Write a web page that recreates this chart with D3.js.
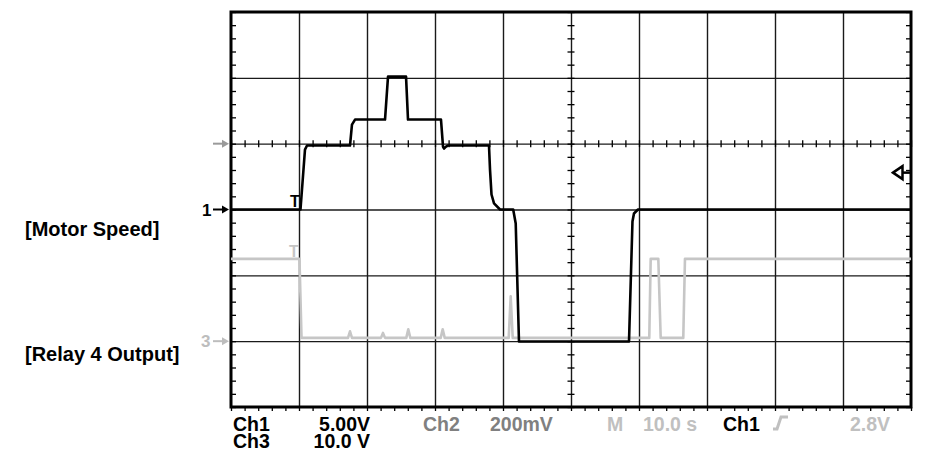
<!DOCTYPE html>
<html><head><meta charset="utf-8">
<script src="https://cdn.jsdelivr.net/npm/d3@7/dist/d3.min.js"></script>
<style>
body{margin:0;background:#fff;}
svg{display:block;font-family:"Liberation Sans",Arial,Helvetica,sans-serif;font-weight:bold;}
</style>
</head><body>
<svg id="c" width="929" height="451"></svg>
<script>
// ---- data ----
const timeDivisions = [0,10,20,30,40,50,60,70,80,90,100];      // seconds (10 s/div)
const ch1Divisions  = [-15,-10,-5,0,5,10,15];                  // volts (5 V/div)
const ch3Divisions  = [-10,0,10,20,30,40,50];                  // volts (10 V/div)

const motorTime  = [0,10.22,10.88,11.18,17.5,17.79,18.24,22.65,23.09,25.74,26.03,30.88,31.18,31.32,31.62,31.91,37.94,38.09,38.31,38.68,39.56,41.5,41.87,42.35,58.53,59.04,59.26,59.85,100];
const motorVolts = [0,0,4.55,4.86,4.86,6.45,6.83,6.83,10.09,10.09,6.83,6.83,4.78,4.63,4.78,4.86,4.86,3.03,1.14,0.46,0,0,-1.06,-10.02,-10.02,-0.91,-0.30,0,0];

const relayTime  = [0,10.07,10.37,17.21,17.5,17.79,22.06,22.35,22.65,25.78,26.07,26.37,30.84,31.13,31.43,40.84,41.13,41.43,61.51,61.72,62.84,63.19,66.51,66.76,100];
const relayVolts = [12.5,12.5,0.5,0.5,1.5,0.5,0.5,1.25,0.5,0.5,1.8,0.5,0.5,1.8,0.5,0.5,6.8,0.5,0.5,12.5,12.5,0.5,0.5,12.5,12.5];

const channelLabels = ["[Motor Speed]","[Relay 4 Output]"];
const readoutChannels = ["Ch1","Ch3"];
const readoutScales = ["5.00V","10.0 V"];
const triggerLevel = 2.8;   // V on Ch1
const ch2Marker = 5;        // Ch1-volts position of the Ch2 ground arrow

// ---- layout ----
const L=231, R=911, T=12, B=407;
const svg = d3.select("#c");
const x = d3.scaleLinear().domain([0,100]).range([L,R]);
const y1 = d3.scaleLinear().domain([-15,15]).range([B,T]);
const y3 = d3.scaleLinear().domain([-10,50]).range([B,T]);

const minorT = d3.range(0,100.001,2);
const minorV = d3.range(-15,15.001,1);

// grid lines
const gx = svg.append("g").attr("transform",`translate(0,${B})`)
  .call(d3.axisBottom(x).tickValues(timeDivisions.slice(1,-1)).tickSize(-(B-T)).tickFormat(""));
gx.select(".domain").remove();
gx.selectAll("line").attr("stroke","#1a1a1a").attr("stroke-width",1.4);
const gy = svg.append("g").attr("transform",`translate(${L},0)`)
  .call(d3.axisLeft(y1).tickValues(ch1Divisions.slice(1,-1)).tickSize(-(R-L)).tickFormat(""));
gy.select(".domain").remove();
gy.selectAll("line").attr("stroke","#1a1a1a").attr("stroke-width",1.4);

// minor ticks on frame
function ticks(axis, tr, size){
  const g = svg.append("g").attr("transform",tr).call(axis.tickSize(size).tickFormat(""));
  g.select(".domain").remove();
  g.selectAll("line").attr("stroke","#000").attr("stroke-width",1.3);
  return g;
}
ticks(d3.axisLeft(y1).tickValues(minorV), `translate(${L},0)`, -5);
ticks(d3.axisRight(y1).tickValues(minorV), `translate(${R},0)`, -5);
ticks(d3.axisBottom(x).tickValues(minorT), `translate(0,${B})`, 4);
// center crosshair ticks
ticks(d3.axisBottom(x).tickValues(minorT), `translate(0,${y1(ch2Marker)-3.5})`, 7);
ticks(d3.axisLeft(y1).tickValues(minorV), `translate(${x(50)+3.5},0)`, 7);

// frame
svg.append("rect").attr("x",L).attr("y",T).attr("width",R-L).attr("height",B-T)
  .attr("fill","none").attr("stroke","#000").attr("stroke-width",3);

// traces
const relayLine = d3.line().x(d=>x(d[0])).y(d=>y3(d[1]));
svg.append("path").datum(relayTime.map((t,i)=>[t,relayVolts[i]]))
  .attr("d",relayLine).attr("fill","none").attr("stroke","#c6c6c6")
  .attr("stroke-width",2.6).attr("stroke-linejoin","round");
const motorLine = d3.line().x(d=>x(d[0])).y(d=>y1(d[1]));
svg.append("path").datum(motorTime.map((t,i)=>[t,motorVolts[i]]))
  .attr("d",motorLine).attr("fill","none").attr("stroke","#000")
  .attr("stroke-width",2.6).attr("stroke-linejoin","round");

// left markers
function arrow(yy, col){
  svg.append("line").attr("x1",213).attr("x2",224).attr("y1",yy).attr("y2",yy)
    .attr("stroke",col).attr("stroke-width",2);
  svg.append("path").attr("d",`M222,${yy-4}L229,${yy}L222,${yy+4}Z`).attr("fill",col);
}
arrow(y1(ch2Marker), "#9a9a9a");
arrow(y1(0), "#000");
arrow(y3(0), "#bdbdbd");
svg.append("text").attr("x",202).attr("y",y1(0)+6).attr("font-size",17).attr("fill","#000").text("1");
svg.append("text").attr("x",201).attr("y",y3(0)+6).attr("font-size",17).attr("fill","#bdbdbd").text("3");

// trigger T markers
svg.append("text").attr("x",290).attr("y",207).attr("font-size",16).attr("fill","#000").text("T");
svg.append("text").attr("x",289).attr("y",257).attr("font-size",16).attr("fill","#c6c6c6").text("T");

// trigger level marker on right
const ty = y1(triggerLevel);
svg.append("line").attr("x1",902).attr("x2",R).attr("y1",ty).attr("y2",ty).attr("stroke","#000").attr("stroke-width",2.5);
svg.append("path").attr("d",`M893,${ty}L902.5,${ty-6.5}L902.5,${ty+6.5}Z`).attr("fill","#fff")
  .attr("stroke","#000").attr("stroke-width",2.5).attr("stroke-linejoin","miter");

// channel labels
svg.append("text").attr("x",25).attr("y",236).attr("font-size",20).attr("fill","#000").text(channelLabels[0]);
svg.append("text").attr("x",25).attr("y",361).attr("font-size",20).attr("fill","#000").text(channelLabels[1]);

// bottom readout
const fs=19.5;
function txt(xx,yy,s,col,anchor){
  svg.append("text").attr("x",xx).attr("y",yy).attr("font-size",fs).attr("fill",col)
    .attr("text-anchor",anchor||"start").text(s);
}
function block(xx, lines, anchor){
  lines.forEach((s,i)=>svg.append("text").attr("font-size",fs).attr("fill","#000")
    .attr("text-anchor",anchor).attr("x",xx).attr("y",431+17*i).text(s));
}
block(233, readoutChannels, "start");
block(370, readoutScales, "end");
txt(423,431,"Ch2","#808080");
txt(490,431,"200mV","#808080");
txt(607,431,"M","#c0c0c0");
txt(643,431,"10.0 s","#c0c0c0");
txt(723,431,"Ch1","#000");
txt(850,431,"2.8V","#c0c0c0");
svg.append("path").attr("d","M773,429L777,429L781,417L788,417").attr("fill","none")
  .attr("stroke","#c0c0c0").attr("stroke-width",3);
</script>
</body></html>
